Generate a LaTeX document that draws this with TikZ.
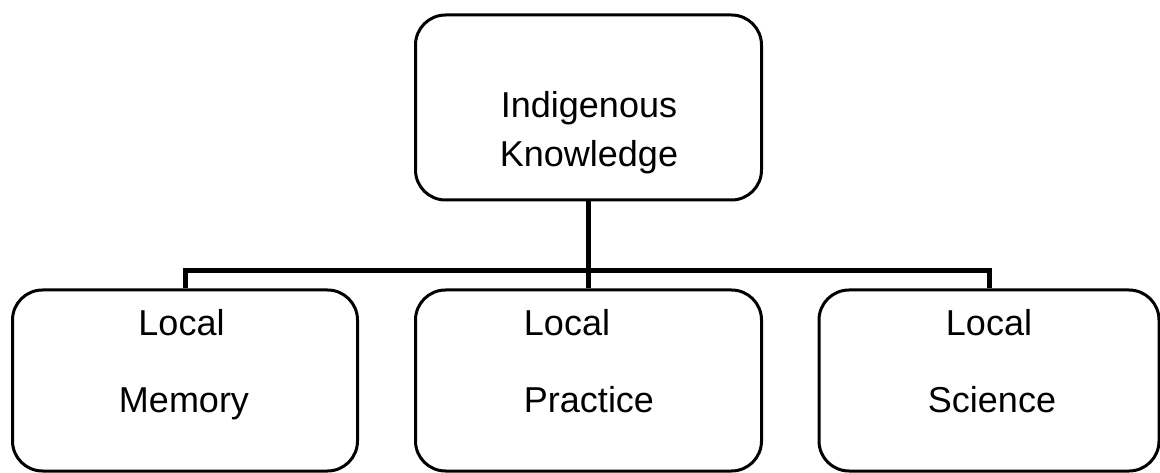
\documentclass[tikz,border=0pt]{standalone}
\usepackage{fontspec}
\setmainfont{Liberation Sans}
\usetikzlibrary{backgrounds}
\begin{document}
\begin{tikzpicture}[x=1pt,y=-1pt,
  box/.style={draw=black, line width=3pt, rounded corners=30pt, inner sep=0pt, fill=white},
  conn/.style={draw=black, line width=5pt},
  lbl/.style={font=\fontsize{36pt}{43pt}\selectfont, anchor=base, inner sep=0pt}]
\useasboundingbox (0,0) rectangle (1160,473);
\coordinate (bus) at (0,271);
\node[box, minimum width=346pt, minimum height=185pt] (top) at (588.5,107.5) {};
\node[box, minimum width=345pt, minimum height=181pt] (left) at (185,380.5) {};
\node[box, minimum width=346pt, minimum height=181pt] (mid) at (588.5,380.5) {};
\node[box, minimum width=340pt, minimum height=181pt] (right) at (989,380.5) {};
\begin{pgfonlayer}{background}
\fill[white] (0,0) rectangle (1160,473);
\draw[conn] (top.south) -- (mid.north);
\draw[conn] (left.north) |- (bus -| right.north) -- (right.north);
\end{pgfonlayer}
\node[lbl] (t1) at (589,118) {Indigenous};
\node[lbl] (t2) at (589,167) {Knowledge};
\node[lbl] (l1) at (181.5,335) {Local};
\node[lbl] (l2) at (184,412) {Memory};
\node[lbl] (m1) at (567,335) {Local};
\node[lbl] (m2) at (589,412) {Practice};
\node[lbl] (r1) at (989,335) {Local};
\node[lbl] (r2) at (992,412) {Science};
\end{tikzpicture}
\end{document}
